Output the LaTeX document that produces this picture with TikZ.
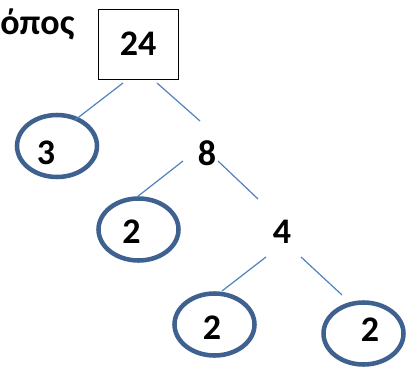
\documentclass[tikz,border=0pt]{standalone}
\usepackage{fontspec}
\setmainfont{Carlito}
\usepackage{tikz}
\usetikzlibrary{shapes.geometric,calc}
\usepackage{color}
\definecolor{ringblue}{HTML}{3F6190}
\definecolor{lineblue}{HTML}{4F81BD}

\begin{document}
\begin{tikzpicture}[x=0.75pt,y=-0.75pt,
boxnode/.style={rectangle, draw=black, thin, minimum width=60pt, minimum height=52.5pt,
font=\bfseries\fontsize{27}{32}\selectfont},
ringnode/.style={ellipse, draw=ringblue, line width=3.4pt, minimum width=60pt, minimum height=46.5pt, inner sep=0pt},
numnode/.style={inner sep=0pt, font=\bfseries\fontsize{27}{32}\selectfont},
branch/.style={draw=lineblue, line width=0.9pt}
]
\useasboundingbox (0,0) rectangle (406,367);
%Nodes
\node[numnode, anchor=base west] (title) at (0,35) {όπος};
\node[boxnode]   (box)   at (138,44)    {24};
\node[ringnode]  (r3)    at (57,146)    {};
\node[numnode]   (n3)    at (46,153)    {3};
\node[numnode]   (n8)    at (207,153)   {8};
\node[ringnode]  (r2a)   at (138.5,229.5) {};
\node[numnode]   (n2a)   at (131.5,232) {2};
\node[numnode]   (n4)    at (282,232)   {4};
\node[ringnode]  (r2b)   at (214.5,324.5) {};
\node[numnode]   (n2b)   at (212,328)   {2};
\node[ringnode]  (r2c)   at (363.5,333.5) {};
\node[numnode]   (n2c)   at (370,330)   {2};
%Lines
\draw[branch] ($(box)+(-15,39)$) -- ($(r3)+(18,-26)$);
\draw[branch] ($(box)+(19,39)$) -- ($(n8)+(-7,-32)$);
\draw[branch] ($(n8)+(-24,8)$) -- ($(r2a)+(-1.5,-32.5)$);
\draw[branch] ($(n8)+(11,8)$) -- ($(n4)+(-24,-33)$);
\draw[branch] ($(n4)+(-16,25)$) -- ($(r2b)+(7.5,-33.5)$);
\draw[branch] ($(n4)+(19,25)$) -- ($(r2c)+(-21.5,-38.5)$);
\end{tikzpicture}
\end{document}
